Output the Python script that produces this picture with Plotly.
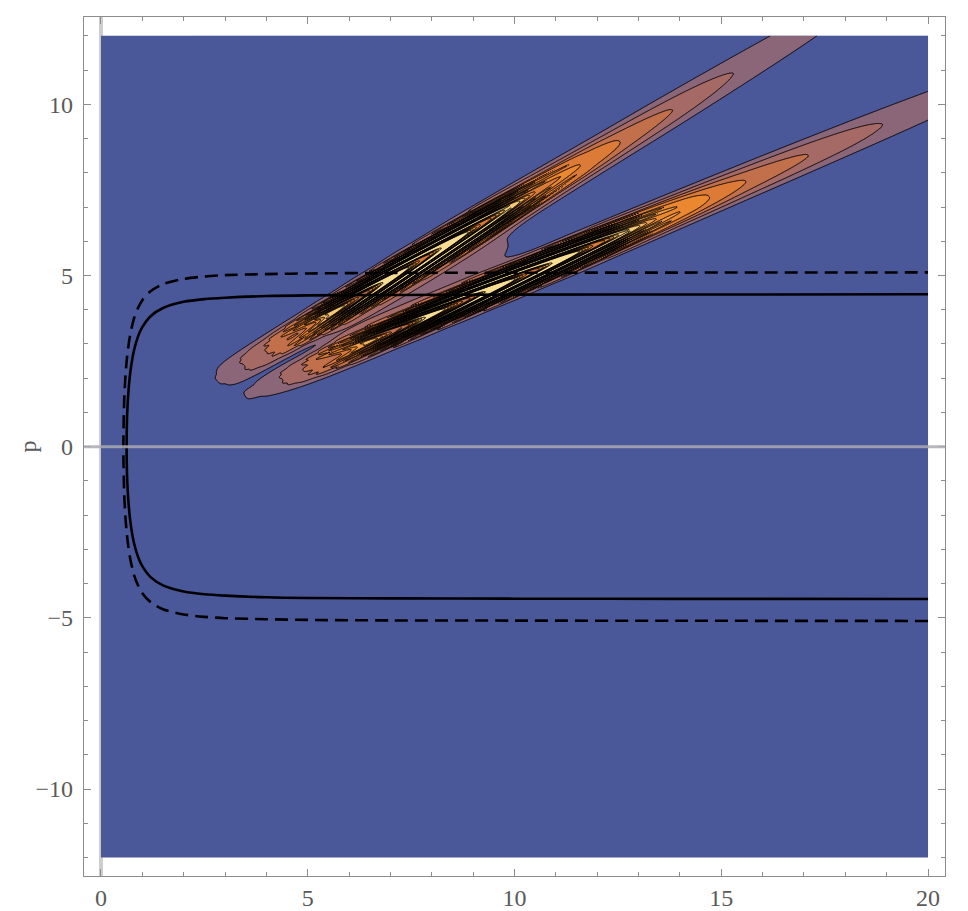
import numpy as np
import plotly.graph_objects as go

# ---------------- energy shells H(x, p) = E ----------------
solid_x = [20.0, 14.0, 10.0, 7.0, 5.0, 4.0, 3.0, 2.5, 2.0, 1.5, 1.2, 1.0, 0.90, 0.80, 0.72, 0.67, 0.64, 0.63, 0.62,
           0.63, 0.64, 0.67, 0.72, 0.80, 0.90, 1.0, 1.2, 1.5, 2.0, 2.5, 3.0, 4.0, 5.0, 7.0, 10.0, 14.0, 20.0]
solid_p = [-4.45, -4.445, -4.44, -4.43, -4.42, -4.40, -4.35, -4.31, -4.23, -4.05, -3.81, -3.49, -3.23, -2.82, -2.27,
           -1.69, -1.12, -0.81, 0.0,
           0.81, 1.12, 1.69, 2.27, 2.82, 3.23, 3.49, 3.81, 4.05, 4.23, 4.31, 4.35, 4.40, 4.42, 4.43, 4.44, 4.445, 4.45]

dashed_x = [20.0, 14.0, 10.0, 7.0, 5.0, 4.0, 3.0, 2.5, 2.0, 1.5, 1.2, 1.0, 0.90, 0.80, 0.70, 0.63, 0.59, 0.56, 0.542,
            0.56, 0.59, 0.63, 0.70, 0.80, 0.90, 1.0, 1.2, 1.5, 2.0, 2.5, 3.0, 4.0, 5.0, 7.0, 10.0, 14.0, 20.0]
dashed_p = [-5.09, -5.085, -5.08, -5.075, -5.06, -5.04, -5.01, -4.97, -4.90, -4.75, -4.54, -4.28, -4.06, -3.75, -3.22,
            -2.60, -2.02, -1.29, 0.0,
            1.29, 2.02, 2.60, 3.22, 3.75, 4.06, 4.28, 4.54, 4.75, 4.90, 4.97, 5.01, 5.04, 5.06, 5.075, 5.08, 5.085, 5.09]

# ---------------- phase-space lobes (upper, lower) ----------------
axis_x = [[2.72, 4.81, 9.17, 12.07, 16.8], [3.28, 4.81, 10.0, 15.0, 20.0]]
axis_p = [[1.85, 3.36, 6.45, 8.60, 12.0], [1.50, 2.00, 4.96, 7.45, 9.96]]
tip_x = [2.72, 3.28]

# smooth outer part: height along the lobe axis (u = distance from the tip)
skirt_u = [[-0.4, 0.0, 0.5, 1.58, 2.6, 6.0, 8.0, 10.0, 12.07, 15.4, 17.3, 22.0],
           [-0.4, 0.0, 0.8, 1.74, 2.6, 7.0, 9.5, 12.0, 13.8, 17.5, 19.1, 24.0]]
skirt_amp = [[0.3, 0.95, 1.35, 1.73, 2.0, 4.0, 4.5, 3.3, 2.3, 1.53, 1.2, 0.7],
             [0.3, 0.9, 1.07, 1.57, 1.9, 4.0, 4.5, 3.3, 2.5, 1.63, 1.3, 0.8]]
skirt_w = [0.42, 0.42]

# fringed inner part
core_u = [[0.0, 1.0, 2.0, 3.5, 6.0, 8.0, 9.84, 12.07, 15.4, 20.0],
          [0.0, 1.0, 2.0, 4.0, 7.0, 10.0, 12.0, 13.8, 17.5, 22.0]]
core_amp = [[0.0, 0.6, 1.8, 6.0, 9.0, 7.0, 2.7, 1.7, 0.47, 0.1],
            [0.0, 0.5, 1.5, 5.5, 9.0, 6.5, 2.7, 1.5, 0.37, 0.1]]
shape_u = [[0.0, 9.0, 12.5], [0.0, 10.0, 13.5]]
core_frac = [[0.70, 0.70, 0.42], [0.70, 0.70, 0.42]]
core_power = [[6.0, 6.0, 2.0], [6.0, 6.0, 2.0]]
depth_u = [[0.0, 2.0, 3.8, 9.0, 11.5], [0.0, 2.0, 3.8, 10.0, 12.5]]
depth = [[0.05, 0.2, 1.0, 1.0, 0.0], [0.05, 0.2, 1.0, 1.0, 0.0]]
fringe_period = [1.8, 1.8]
fringe_slant = [20.0, 20.0]
fringe_round = 0.12

# interference bridge between the two lobes
bridge_x = [5.45, 9.95]
bridge_amp = 1.7
bridge_sigma = 0.40

levels = [1, 2, 3, 4, 5, 6, 7, 8, 9]
band_colors = ["#4a5799", "#8b6679", "#a66a66", "#c2704c", "#dc7a37",
               "#ea872f", "#f09c48", "#f4b45e", "#f6c876", "#f8de92"]

xs = np.linspace(2.2, 20.0, 742)
ps = np.linspace(0.9, 12.0, 384)
X, P = np.meshgrid(xs, ps)
ug = np.linspace(-4.0, 30.0, 3401)


def along(knots, vals, u, log=False, smooth=0.3):
    v = np.interp(ug, knots, np.log(vals) if log else vals)
    n = int(3 * smooth / 0.01)
    k = np.exp(-0.5 * (np.arange(-n, n + 1) * 0.01 / smooth) ** 2)
    v = np.convolve(np.pad(v, n, mode="edge"), k / k.sum(), mode="valid")
    out = np.interp(u, ug, v)
    return np.exp(out) if log else out


def axis_fit(i):
    return np.polyfit(axis_x[i], axis_p[i], 2)


def lobe(i):
    coef = axis_fit(i)
    dcoef = np.polyder(coef)
    pc = np.polyval(coef, X)
    sl = np.polyval(dcoef, X)
    nrm = np.sqrt(1 + sl ** 2)
    d = (P - pc) / nrm
    xf = X + (P - pc) * sl / nrm ** 2
    xl = np.linspace(tip_x[i] - 3, 22, 3000)
    ds = np.sqrt(1 + np.polyval(dcoef, xl) ** 2)
    arc = np.concatenate([[0], np.cumsum(0.5 * (ds[1:] + ds[:-1]) * np.diff(xl))])
    arc -= np.interp(tip_x[i], xl, arc)
    u = np.interp(xf, xl, arc)
    s_amp = along(skirt_u[i], skirt_amp[i], u, log=True)
    skirt = s_amp * np.exp(-0.5 * (d / skirt_w[i]) ** 4)
    half = skirt_w[i] * (2 * np.log(np.maximum(s_amp, 1.02))) ** 0.25
    c_amp = np.clip(along(core_u[i], core_amp[i], u), 0, None)
    c_amp = np.where(u < 0, 0.0, c_amp)
    m = np.clip(along(depth_u[i], depth[i], u), 0, 1)
    frac = along(shape_u[i], core_frac[i], u, smooth=0.8)
    pw = along(shape_u[i], core_power[i], u, smooth=0.8)
    g = np.sqrt(d ** 2 + fringe_round ** 2) - fringe_round
    phase = 2 * np.pi * (u + fringe_slant[i] * g) / fringe_period[i]
    fr = 1 - m + m * (0.5 + 0.5 * np.cos(phase))
    core = c_amp * np.exp(-0.5 * np.abs(d / (frac * half)) ** pw) * fr
    return skirt + core


Z = np.maximum(lobe(0), lobe(1))
mid = 0.5 * (np.polyval(axis_fit(0), X) + np.polyval(axis_fit(1), X))
win = 1 / (1 + np.exp(-(X - bridge_x[0]) / 0.22)) / (1 + np.exp(-(bridge_x[1] - X) / 0.3))
Z += bridge_amp * win * np.exp(-((P - mid) / 1.17) ** 2 / (2 * bridge_sigma ** 2))
Z = np.round(Z, 2)

nb = len(band_colors)
cscale = []
for k, c in enumerate(band_colors):
    cscale.append([k / nb, c])
    cscale.append([(k + 1) / nb, c])

fig = go.Figure()
fig.add_trace(go.Contour(
    x=xs, y=ps, z=Z, zmin=0, zmax=nb, colorscale=cscale, showscale=False,
    contours=dict(start=levels[0], end=levels[-1], size=1, coloring="fill"),
    line=dict(color="black", width=1.0, smoothing=0.6), hoverinfo="skip"))
fig.add_trace(go.Scatter(x=solid_x, y=solid_p, mode="lines",
                         line=dict(color="black", width=2.6, shape="spline", smoothing=0.8),
                         hoverinfo="skip", showlegend=False))
fig.add_trace(go.Scatter(x=dashed_x, y=dashed_p, mode="lines",
                         line=dict(color="black", width=2.6, dash="13px,7px", shape="spline", smoothing=0.8),
                         hoverinfo="skip", showlegend=False))

tick_font = dict(family="Liberation Serif, Times New Roman, serif", size=24, color="#5a5a5a")
axis_common = dict(showline=True, mirror="ticks", linecolor="#8c8c8c", linewidth=1.2,
                   ticks="inside", ticklen=7, tickwidth=1.2, tickcolor="#8c8c8c",
                   showgrid=False, zeroline=False, tickfont=tick_font,
                   automargin=False,
                   minor=dict(ticks="inside", ticklen=4, tickcolor="#8c8c8c", tickwidth=1, dtick=1, showgrid=False))

fig.update_layout(
    width=968, height=911, margin=dict(l=84, r=23, t=17, b=35),
    paper_bgcolor="white", plot_bgcolor="white", showlegend=False,
    xaxis=dict(range=[-0.41, 20.41], tickvals=[0, 5, 10, 15, 20], ticklabelstandoff=0, **axis_common),
    yaxis=dict(range=[-12.54, 12.55], tickvals=[-10, -5, 0, 5, 10], ticklabelstandoff=5, **axis_common),
    shapes=[
        dict(type="line", xref="x", yref="paper", x0=0, x1=0, y0=0, y1=1,
             line=dict(color="#cdcdcd", width=4), layer="below"),
        dict(type="rect", xref="x", yref="y", x0=0, x1=20, y0=-12, y1=12,
             fillcolor=band_colors[0], line=dict(width=0), layer="below"),
        dict(type="line", xref="paper", yref="y", x0=0, x1=1, y0=0, y1=0,
             line=dict(color="rgba(170,170,178,0.85)", width=3), layer="above"),
    ],
    annotations=[dict(text="p", xref="paper", yref="paper", x=-0.0836, y=0.5, showarrow=False,
                      textangle=-90, font=dict(family="Liberation Serif, serif", size=24, color="#5a5a5a"))],
)
fig.write_html("out.html")
